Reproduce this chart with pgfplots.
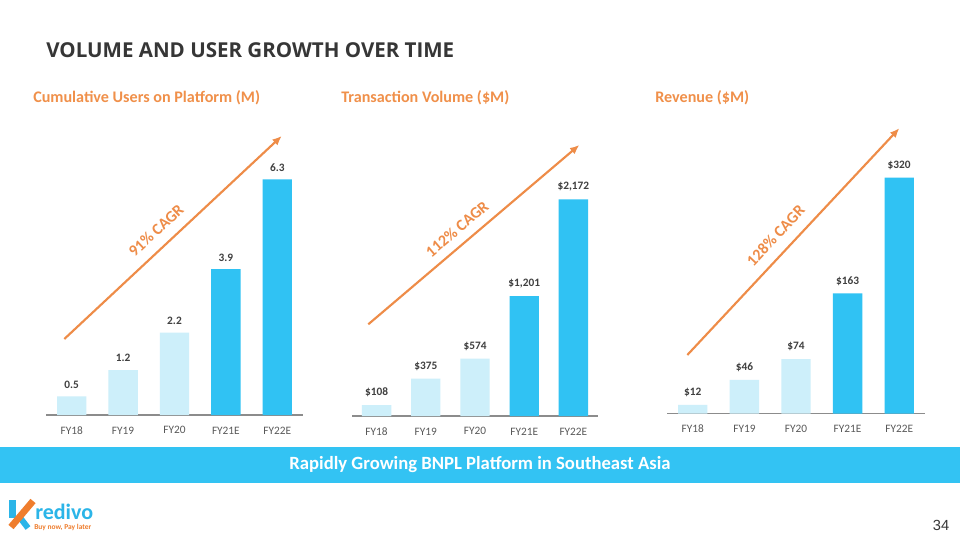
\documentclass[border=0pt]{standalone}
\usepackage{pgfplots}
\pgfplotsset{compat=1.18}
\usetikzlibrary{arrows.meta}
\usepackage{fontspec}
\setmainfont{Carlito}
\newfontfamily\arialfont{Liberation Sans}
\newfontfamily\titlefont{Open Sans}
\definecolor{titlegray}{HTML}{363636}
\definecolor{subor}{HTML}{F0904A}
\definecolor{arrowor}{HTML}{EE8C48}
\definecolor{darkbar}{HTML}{30C2F3}
\definecolor{lightbar}{HTML}{CDEFFA}
\definecolor{banner}{HTML}{33C3F3}
\definecolor{ticktext}{HTML}{595959}
\definecolor{valtext}{HTML}{404040}
\definecolor{axisgray}{HTML}{8C8C8C}
\definecolor{kblue}{HTML}{2BB5E8}
\definecolor{korange}{HTML}{EF7D2D}
\pgfplotsset{
  kbar/.style={
    scale only axis,
    ybar, bar width=22pt,
    ymin=0,
    xmin=-0.5, xmax=4.5,
    axis x line*=bottom, axis y line=none,
    x axis line style={draw=axisgray, line width=1.1pt, -},
    xtick=\empty,
    ytick=\empty,
    nodes near coords,
    point meta=explicit symbolic,
    nodes near coords style={font=\bfseries\fontsize{8.5}{10}\selectfont, text=valtext, anchor=south, yshift=2.5pt},
    clip=false,
  }
}
\tikzset{fylab/.style={anchor=center, yshift=-11.5pt, inner sep=0pt, font=\fontsize{8.5}{10}\selectfont, text=ticktext}}
\newcommand\fylabels{%
  \node[fylab] at (axis cs:0,0) {FY18};
  \node[fylab] at (axis cs:1,0) {FY19};
  \node[fylab] at (axis cs:2,0) {FY20};
  \node[fylab] at (axis cs:3,0) {FY21E};
  \node[fylab] at (axis cs:4,0) {FY22E};
}
\begin{document}
\begin{tikzpicture}[x=0.75pt,y=0.75pt]
\path[use as bounding box, fill=white] (0,0) rectangle (960,540);
\coordinate (c1) at (46,125);
\coordinate (c2) at (352,124);
\coordinate (c3) at (667,126.3);
% title
\node[anchor=west, font=\titlefont\bfseries\fontsize{15.4}{18}\selectfont, text=titlegray, inner sep=0pt] at (46,490) {VOLUME AND USER GROWTH OVER TIME};
% subtitles
\node[anchor=west, font=\bfseries\fontsize{12.1}{14}\selectfont, text=subor, inner sep=0pt] at (33,442) {Cumulative Users on Platform (M)};
\node[anchor=west, font=\bfseries\fontsize{12.1}{14}\selectfont, text=subor, inner sep=0pt] at (341,442) {Transaction Volume (\$M)};
\node[anchor=west, font=\bfseries\fontsize{12.1}{14}\selectfont, text=subor, inner sep=0pt] at (655,442) {Revenue (\$M)};

% chart 1
\begin{axis}[kbar, at={(c1)}, anchor=south west, width=192.75pt, height=210.4pt, ymax=7.5]
\addplot[fill=lightbar, draw=none, bar shift=0pt] coordinates {(0,0.5) [0.5] (1,1.2) [1.2] (2,2.2) [2.2]};
\addplot[fill=darkbar, draw=none, bar shift=0pt] coordinates {(3,3.9) [3.9] (4,6.3) [6.3]};
\fylabels
\end{axis}
% chart 2
\begin{axis}[kbar, at={(c2)}, anchor=south west, width=184.5pt, height=209.5pt, ymax=2800]
\addplot[fill=lightbar, draw=none, bar shift=0pt] coordinates {(0,108) [\$108] (1,375) [\$375] (2,574) [\$574]};
\addplot[fill=darkbar, draw=none, bar shift=0pt] coordinates {(3,1201) [{\$1,201}] (4,2172) [{\$2,172}]};
\fylabels
\end{axis}
% chart 3
\begin{axis}[kbar, at={(c3)}, anchor=south west, width=193.5pt, height=210.2pt, ymax=380]
\addplot[fill=lightbar, draw=none, bar shift=0pt] coordinates {(0,12) [\$12] (1,46) [\$46] (2,74) [\$74]};
\addplot[fill=darkbar, draw=none, bar shift=0pt] coordinates {(3,163) [\$163] (4,320) [\$320]};
\fylabels
\end{axis}

% CAGR arrows
\draw[arrowor, line width=1.6pt, -{Latex[length=7pt,width=6pt]}] (64.3,201) -- (281.7,404);
\draw[arrowor, line width=1.6pt, -{Latex[length=7pt,width=6pt]}] (368.3,215.7) -- (579.3,395);
\draw[arrowor, line width=1.6pt, -{Latex[length=7pt,width=6pt]}] (687.3,185) -- (899.3,411.7);
\node[rotate=43, font=\bfseries\fontsize{12}{14}\selectfont, text=arrowor] at (156,309.5) {91\% CAGR};
\node[rotate=40.4, font=\bfseries\fontsize{12}{14}\selectfont, text=arrowor] at (457,311) {112\% CAGR};
\node[rotate=46.9, font=\bfseries\fontsize{12}{14}\selectfont, text=arrowor] at (775.5,304.5) {128\% CAGR};

% banner
\fill[banner] (0,57) rectangle (960,93);
\node[font=\bfseries\fontsize{14}{16}\selectfont, text=white] at (480,75) {Rapidly Growing BNPL Platform in Southeast Asia};

% page number
\node[font=\arialfont\fontsize{11}{13}\selectfont, text=titlegray] at (941,15) {34};

% logo
\fill[kblue] (9,22) -- (16,22) -- (16,40) -- (9,40) -- cycle;
\draw[kblue, line width=4.5pt] (18,25) -- (28,12);
\draw[korange, line width=5pt] (11,13) -- (33,39);
\node[anchor=west, font=\bfseries\fontsize{16.5}{18}\selectfont, text=kblue, inner sep=0pt] at (35,28) {redivo};
\node[anchor=west, font=\bfseries\fontsize{5.6}{7}\selectfont, text=korange, inner sep=0pt] at (34,13) {Buy now, Pay later};
\end{tikzpicture}
\end{document}
